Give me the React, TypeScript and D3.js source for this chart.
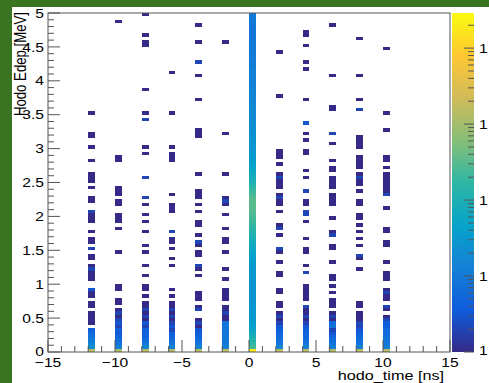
import * as d3 from 'd3';

// ---------------------------------------------------------------------------
// Data: hodo_time vs Hodo Edep, counts per bin (0.5 ns x 0.05 MeV)
// each pair = [Edep lower edge (MeV), counts]
// ---------------------------------------------------------------------------
type Bin = [number, number];

const colM12: Bin[] = [
  [3.5, 1], [3.2, 1], [3.15, 1], [3.0, 1], [2.8, 1], [2.6, 1], [2.55, 1], [2.5, 1], [2.4, 1],
  [2.25, 1], [2.2, 1], [2.05, 2], [2.0, 1], [1.95, 1], [1.9, 1], [1.75, 1], [1.65, 1], [1.6, 1],
  [1.5, 2], [1.4, 1], [1.35, 1], [1.25, 1], [1.2, 2], [1.15, 1], [1.1, 1], [1.05, 1], [0.9, 3],
  [0.85, 1], [0.8, 1], [0.7, 1], [0.65, 1], [0.55, 1], [0.5, 1], [0.45, 1], [0.4, 1],
  [0.3, 4], [0.25, 6], [0.2, 8], [0.15, 10], [0.1, 14], [0.05, 20], [0.0, 1500],
];
const colM10: Bin[] = [
  [4.85, 1], [2.85, 1], [2.8, 1], [2.4, 1], [2.35, 1], [2.3, 1], [2.2, 1], [2.15, 1], [2.0, 1],
  [1.95, 1], [1.9, 1], [1.8, 1], [1.45, 1], [0.95, 1], [0.9, 1], [0.75, 1], [0.7, 1],
  [0.6, 1], [0.55, 2], [0.5, 1], [0.45, 2], [0.4, 3], [0.35, 2], [0.3, 4], [0.25, 3], [0.2, 5],
  [0.15, 6], [0.1, 8], [0.05, 12], [0.0, 1200],
];
const colM8: Bin[] = [
  [4.95, 1], [4.65, 1], [4.55, 1], [4.5, 1], [3.85, 1], [3.5, 1], [3.4, 2], [3.0, 1], [2.9, 1],
  [2.55, 2], [2.25, 2], [2.15, 1], [2.0, 1], [1.9, 1], [1.75, 1], [1.55, 1], [1.45, 1], [1.25, 1],
  [1.1, 1], [0.95, 1], [0.9, 1], [0.8, 1], [0.7, 1],
  [0.65, 1], [0.6, 2], [0.55, 1], [0.5, 2], [0.45, 1], [0.4, 3], [0.35, 2], [0.3, 4], [0.25, 5],
  [0.2, 4], [0.15, 7], [0.1, 9], [0.05, 15], [0.0, 1500],
];
const colM6: Bin[] = [
  [4.1, 1], [3.5, 1], [3.0, 1], [2.9, 1], [2.85, 1], [2.8, 1], [2.3, 1], [2.15, 1], [2.1, 1],
  [2.05, 1], [1.75, 2], [1.65, 1], [1.6, 1], [1.5, 1], [1.35, 1], [1.25, 1], [0.9, 1], [0.8, 1],
  [0.7, 1],
  [0.65, 1], [0.6, 2], [0.55, 1], [0.5, 2], [0.45, 1], [0.4, 2], [0.35, 3], [0.3, 2], [0.25, 4],
  [0.2, 5], [0.15, 6], [0.1, 8], [0.05, 12], [0.0, 1300],
];
const colM4: Bin[] = [
  [4.8, 1], [4.55, 1], [4.25, 2], [4.05, 1], [3.7, 1], [3.25, 1], [3.2, 1], [3.15, 1], [2.6, 1],
  [2.35, 1], [2.3, 1], [2.25, 1], [2.15, 1], [2.05, 1], [1.9, 1], [1.85, 1], [1.7, 1], [1.6, 2],
  [1.55, 1], [1.45, 1], [1.4, 1], [1.25, 2], [1.2, 1], [1.1, 1], [0.85, 1], [0.8, 1], [0.75, 1],
  [0.65, 1], [0.6, 2], [0.45, 1], [0.4, 2], [0.35, 1], [0.3, 3], [0.25, 4], [0.2, 5], [0.15, 6],
  [0.1, 9], [0.05, 14], [0.0, 1400],
];
const colM2: Bin[] = [
  [4.55, 1], [3.2, 1], [2.6, 1], [2.25, 1], [2.2, 2], [2.15, 1], [2.0, 1], [1.8, 1], [1.65, 1],
  [1.6, 1], [1.45, 1], [1.2, 1], [1.05, 1], [0.9, 1], [0.85, 1], [0.8, 1], [0.75, 1],
  [0.65, 1], [0.6, 1], [0.55, 2], [0.5, 1], [0.45, 1], [0.4, 8], [0.35, 9], [0.3, 8], [0.25, 9],
  [0.2, 9], [0.15, 10], [0.1, 10], [0.05, 12], [0.0, 1600],
];
const colP2: Bin[] = [
  [4.4, 1], [3.75, 1], [2.95, 1], [2.9, 1], [2.85, 1], [2.75, 1], [2.6, 1], [2.55, 2], [2.5, 1],
  [2.45, 1], [2.4, 1], [2.3, 1], [2.25, 2], [2.2, 1], [2.15, 1], [2.05, 1], [1.85, 1], [1.8, 2],
  [1.7, 1], [1.5, 2], [1.45, 1], [1.3, 1], [1.15, 1], [1.1, 1], [0.9, 1], [0.85, 1], [0.7, 1],
  [0.65, 1],
  [0.55, 1], [0.5, 2], [0.45, 1], [0.4, 2], [0.35, 3], [0.3, 4], [0.25, 5], [0.2, 6], [0.15, 7],
  [0.1, 9], [0.05, 14], [0.0, 1500],
];
const colP4: Bin[] = [
  [4.7, 1], [4.65, 1], [4.5, 1], [4.25, 1], [4.15, 1], [3.7, 1], [3.35, 3], [3.2, 1], [3.1, 1],
  [2.95, 1], [2.9, 1], [2.65, 1], [2.55, 1], [2.35, 2], [2.2, 1], [2.15, 1], [2.05, 2], [2.0, 2],
  [1.9, 1], [1.65, 1], [1.5, 1], [1.45, 1], [1.25, 1], [1.15, 2], [0.95, 1], [0.9, 1], [0.85, 1],
  [0.8, 1], [0.75, 1], [0.65, 2],
  [0.6, 1], [0.55, 1], [0.5, 2], [0.45, 1], [0.4, 2], [0.35, 3], [0.3, 4], [0.25, 5], [0.2, 5],
  [0.15, 7], [0.1, 9], [0.05, 13], [0.0, 1400],
];
const colP6: Bin[] = [
  [4.8, 1], [4.05, 1], [3.6, 1], [3.55, 1], [3.2, 2], [3.05, 1], [2.8, 1], [2.7, 1], [2.65, 1],
  [2.55, 1], [2.5, 1], [2.45, 1], [2.4, 1], [2.3, 1], [2.25, 1], [2.2, 1], [2.15, 1], [1.95, 1],
  [1.75, 1], [1.7, 2], [1.55, 1], [1.5, 1], [1.3, 1], [1.1, 1], [1.05, 1], [0.95, 1], [0.85, 1],
  [0.75, 1], [0.7, 1], [0.65, 1],
  [0.55, 1], [0.5, 2], [0.45, 1], [0.4, 6], [0.35, 8], [0.3, 2], [0.25, 3], [0.2, 5], [0.15, 6],
  [0.1, 8], [0.05, 12], [0.0, 1300],
];
const colP8: Bin[] = [
  [4.6, 1], [4.05, 1], [3.7, 1], [3.55, 2], [3.15, 1], [3.1, 1], [3.05, 1], [3.0, 1], [2.85, 1],
  [2.8, 1], [2.75, 1], [2.7, 1], [2.6, 1], [2.55, 2], [2.5, 1], [2.45, 1], [2.35, 1], [2.2, 1],
  [2.15, 1], [2.0, 1], [1.95, 1], [1.85, 1], [1.75, 1], [1.65, 1], [1.55, 1], [1.4, 2], [1.35, 1],
  [1.2, 1], [0.7, 1], [0.65, 1], [0.55, 1], [0.5, 1],
  [0.45, 1], [0.4, 2], [0.35, 2], [0.3, 3], [0.25, 4], [0.2, 5], [0.15, 6], [0.1, 8], [0.05, 12],
  [0.0, 1300],
];
const colP10: Bin[] = [
  [4.45, 1], [3.5, 1], [3.25, 1], [2.85, 1], [2.8, 1], [2.7, 1], [2.6, 1], [2.55, 1], [2.5, 1],
  [2.45, 1], [2.4, 1], [2.35, 1], [2.3, 2], [2.1, 1], [1.8, 1], [1.75, 1], [1.6, 1], [1.55, 1],
  [1.3, 1], [1.15, 1], [1.1, 1], [1.05, 1], [0.9, 1], [0.85, 2], [0.8, 1], [0.75, 1], [0.65, 2],
  [0.6, 1],
  [0.5, 1], [0.45, 2], [0.4, 4], [0.35, 4], [0.3, 6], [0.25, 6], [0.2, 7], [0.15, 8], [0.1, 9],
  [0.05, 12], [0.0, 1400],
];

// central column (0 .. 0.5 ns), counts for Edep bins 0.00, 0.05, ... 4.95
const centreCounts: number[] = [
  18000, 220, 160, 120, 90, 70, 55, 45, 38, 34,
  32, 30, 30, 28, 28, 27, 27, 26, 27, 28,
  28, 29, 30, 30, 32, 34, 36, 40, 44, 50,
  56, 64, 75, 90, 110, 130, 150, 180, 210, 240,
  270, 300, 320, 330, 320, 290, 250, 200, 160, 120,
  95, 80, 65, 55, 48, 42, 38, 34, 32, 30,
  28, 27, 25, 24, 23, 22, 21, 20, 19, 18,
  17, 17, 16, 16, 15, 15, 14, 14, 13, 13,
  13, 12, 12, 12, 11, 11, 11, 10, 10, 10,
  10, 10, 9, 9, 9, 9, 9, 10, 10, 10,
];

const columnStarts = [-12, -10, -8, -6, -4, -2, 2, 4, 6, 8, 10];
const columnBins = [colM12, colM10, colM8, colM6, colM4, colM2, colP2, colP4, colP6, colP8, colP10];

const xLabels = [-15, -10, -5, 0, 5, 10, 15];
const yLabels = ['0', '0.5', '1', '1.5', '2', '2.5', '3', '3.5', '4', '4.5', '5'];
const zDecades = [1, 10, 100, 1000, 10000];

// ROOT kBird palette
const BIRD = ['#352a87', '#0f5cdd', '#1481d6', '#06a4ca', '#2eb7a4', '#87bf77', '#d1bb59', '#fec832', '#f9fb0e'];

const W = 489;
const H = 383;
const GREEN = '#3a7322';
const AXIS = '#555';
const FONT = '"Liberation Sans", Arial, Helvetica, sans-serif';
const SX = 1.2; // picture is stretched horizontally

const BIN_W = 0.5;
const BIN_H = 0.05;
const Z_MAX = 29000;

export default function App() {
  const x = d3.scaleLinear().domain([-15, 15]).range([48, 450]);
  const y = d3.scaleLinear().domain([0, 5]).range([352, 13]);
  const zNorm = d3.scaleLog().domain([1, Z_MAX]).range([0, 1]).clamp(true);
  const zAxis = d3.scaleLog().domain([1, Z_MAX]).range([352, 13]);
  const colour = d3
    .scaleLinear<string>()
    .domain(BIRD.map((_, i) => i / (BIRD.length - 1)))
    .range(BIRD)
    .interpolate(d3.interpolateRgb);

  const cells: { t0: number; e: number; c: number }[] = [];
  columnBins.forEach((bins, i) => {
    bins.forEach(([e, c]) => cells.push({ t0: columnStarts[i], e, c }));
  });
  centreCounts.forEach((c, i) => cells.push({ t0: 0, e: i * BIN_H, c }));

  const bw = x(BIN_W) - x(0);
  const bh = y(0) - y(BIN_H);

  const xt = x.ticks(30);
  const yt = y.ticks(50);
  const zt = zAxis.ticks().filter((v) => v <= Z_MAX);

  const cbX0 = 452;
  const cbX1 = 474;

  return (
    <div style={{ position: 'absolute', left: 0, top: 0 }}>
      <svg width={W} height={H} style={{ display: 'block', fontFamily: FONT }}>
        <defs>
          <linearGradient id="bird" x1="0" y1="1" x2="0" y2="0">
            {BIRD.map((c, i) => (
              <stop key={i} offset={i / (BIRD.length - 1)} stopColor={c} />
            ))}
          </linearGradient>
        </defs>
        <rect width={W} height={H} fill="#fff" />
        <rect x={0} y={0} width={W} height={7} fill={GREEN} />
        <rect x={0} y={0} width={12} height={H} fill={GREEN} />

        {/* bins */}
        <g shapeRendering="crispEdges">
          {cells.map((d, i) => (
            <rect
              key={i}
              x={x(d.t0)}
              y={y(d.e + BIN_H)}
              width={bw}
              height={bh}
              fill={colour(zNorm(d.c))}
            />
          ))}
        </g>

        {/* frame */}
        <rect x={48} y={13} width={402} height={339} fill="none" stroke={AXIS} strokeWidth={1} />

        {/* x ticks */}
        {xt.map((v) => (
          <line key={v} x1={x(v)} x2={x(v)} y1={352} y2={352 - (v % 5 === 0 ? 12 : 6)} stroke={AXIS} />
        ))}
        {xLabels.map((v) => (
          <text
            key={v}
            transform={`translate(${x(v)},366.5) scale(${SX},1)`}
            textAnchor="middle"
            fontSize={13}
          >
            {v < 0 ? `\u2212${-v}` : v}
          </text>
        ))}
        <text transform={`translate(444,380) scale(${SX},1)`} textAnchor="end" fontSize={13.5}>
          hodo_time [ns]
        </text>

        {/* y ticks */}
        {yt.map((v) => {
          const major = Math.abs(v * 2 - Math.round(v * 2)) < 1e-6;
          return <line key={v} x1={48} x2={48 + (major ? 12 : 6)} y1={y(v)} y2={y(v)} stroke={AXIS} />;
        })}
        {yLabels.map((s) => (
          <text
            key={s}
            transform={`translate(44,${y(+s) + 4.6 - (s === '0' ? 1 : 0)}) scale(${SX},1)`}
            textAnchor="end"
            fontSize={13}
          >
            {s}
          </text>
        ))}
        <text
          transform={`translate(25.5,12) scale(${SX},1) rotate(-90)`}
          textAnchor="end"
          fontSize={13.2}
        >
          Hodo Edep [MeV]
        </text>

        {/* colour bar */}
        <rect x={cbX0} y={13} width={cbX1 - cbX0} height={339} fill="url(#bird)" />
        {zt.map((v) => {
          const major = zDecades.includes(v);
          return (
            <line
              key={v}
              x1={cbX1 - (major ? 10 : 6)}
              x2={cbX1}
              y1={zAxis(v)}
              y2={zAxis(v)}
              stroke={AXIS}
            />
          );
        })}
        {zDecades.map((v) => (
          <text
            key={v}
            transform={`translate(479,${Math.min(zAxis(v), 350) + 4.6}) scale(${SX},1)`}
            fontSize={13}
          >
            1
          </text>
        ))}
      </svg>
    </div>
  );
}
